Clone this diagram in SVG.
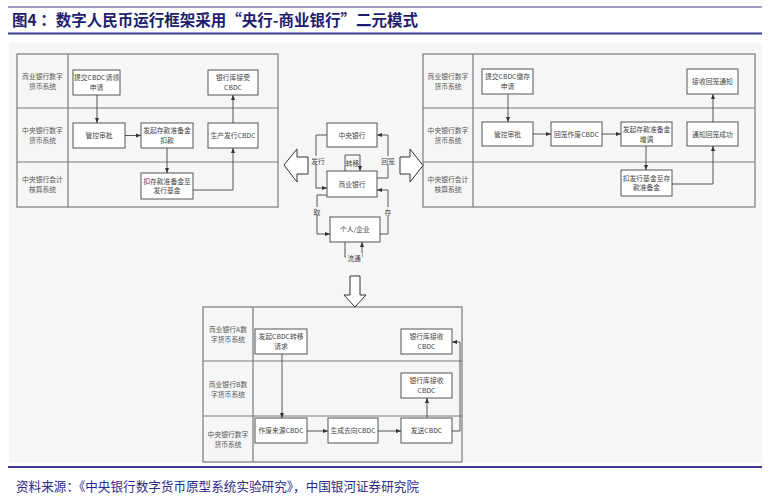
<svg xmlns="http://www.w3.org/2000/svg" width="770" height="500" viewBox="0 0 770 500">
<defs>
<style>
.bg{fill:#f6f6f6}
.rule{stroke:#3d3b8e;fill:none}
.panel{fill:#f6f6f6;stroke:#7a7a7a;stroke-width:1.2}
.div{stroke:#7a7a7a;stroke-width:1.2;fill:none}
.box{fill:#ffffff;stroke:#555;stroke-width:1}
.t{font-family:"Noto Sans CJK SC","Noto Sans",sans-serif;font-size:6.8px;fill:#444;text-anchor:middle}
.lab{font-family:"Noto Sans CJK SC","Noto Sans",sans-serif;font-size:6.8px;fill:#555;text-anchor:middle}
.c{stroke:#444;stroke-width:0.9;fill:none;marker-end:url(#ah)}
.big{fill:#ffffff;stroke:#333;stroke-width:1}
.lbg{fill:#f6f6f6}
.title{font-family:"Noto Sans CJK SC",sans-serif;font-size:15.5px;font-weight:bold;fill:#1f1d6e}
.src{font-family:"Noto Sans CJK SC",sans-serif;font-size:12.6px;fill:#2d2b85}
</style>
<marker id="ah" viewBox="0 0 10 10" refX="10" refY="5" markerWidth="5" markerHeight="5" orient="auto" markerUnits="userSpaceOnUse">
<path d="M0,1 L10,5 L0,9 Z" fill="#333"/>
</marker>
</defs>

<rect class="bg" x="9" y="43" width="753" height="420"/>
<line class="rule" x1="8" y1="7" x2="762" y2="7" stroke-width="1.2"/>
<line class="rule" x1="8" y1="33.5" x2="762" y2="33.5" stroke-width="2"/>
<line class="rule" x1="8" y1="467" x2="762" y2="467" stroke-width="2"/>
<text class="title" x="12" y="26">图4 ：数字人民币运行框架采用“央行-商业银行”二元模式</text>
<text class="src" x="16" y="491">资料来源：《中央银行数字货币原型系统实验研究》，中国银河证券研究院</text>

<!-- Left panel: issuance -->
<g id="panel-left">
<rect class="panel" x="17" y="54" width="261" height="153"/>
<path class="div" d="M17,108H278M17,162H278M68,54V207"/>
<text class="lab" x="42.5" y="79"><tspan x="42.5">商业银行数字</tspan><tspan x="42.5" dy="10">货币系统</tspan></text>
<text class="lab" x="42.5" y="133"><tspan x="42.5">中央银行数字</tspan><tspan x="42.5" dy="10">货币系统</tspan></text>
<text class="lab" x="42.5" y="182"><tspan x="42.5">中央银行会计</tspan><tspan x="42.5" dy="10">核算系统</tspan></text>
</g>
<g id="L1"><rect class="box" x="73" y="70" width="47" height="25"/><text class="t" x="96.5" y="80"><tspan x="96.5">提交CBDC请领</tspan><tspan x="96.5" dy="9.5">申请</tspan></text></g>
<g id="L2"><rect class="box" x="208" y="70" width="50" height="25"/><text class="t" x="233" y="80"><tspan x="233">银行库接受</tspan><tspan x="233" dy="9.5">CBDC</tspan></text></g>
<g id="L3"><rect class="box" x="73" y="123" width="52" height="25"/><text class="t" x="99" y="138">管控审批</text></g>
<g id="L4"><rect class="box" x="141" y="123" width="52" height="25"/><text class="t" x="167" y="133"><tspan x="167">发起存款准备金</tspan><tspan x="167" dy="9.5">扣款</tspan></text></g>
<g id="L5"><rect class="box" x="208" y="123" width="50" height="25"/><text class="t" x="233" y="138">生产发行CBDC</text></g>
<g id="L6"><rect class="box" x="141" y="173" width="52" height="26"/><text class="t" x="167" y="183.5"><tspan x="167">扣存款准备金至</tspan><tspan x="167" dy="9.5">发行基金</tspan></text></g>

<!-- Right panel: withdrawal -->
<g id="panel-right">
<rect class="panel" x="423" y="54" width="332" height="153"/>
<path class="div" d="M423,108H755M423,162H755M473,54V207"/>
<text class="lab" x="448" y="79"><tspan x="448">商业银行数字</tspan><tspan x="448" dy="10">货币系统</tspan></text>
<text class="lab" x="448" y="133"><tspan x="448">中央银行数字</tspan><tspan x="448" dy="10">货币系统</tspan></text>
<text class="lab" x="448" y="182"><tspan x="448">中央银行会计</tspan><tspan x="448" dy="10">核算系统</tspan></text>
</g>
<g id="R1"><rect class="box" x="482" y="69" width="51" height="25"/><text class="t" x="507.5" y="79"><tspan x="507.5">提交CBDC缴存</tspan><tspan x="507.5" dy="9.5">申请</tspan></text></g>
<g id="R2"><rect class="box" x="687" y="69" width="51" height="25"/><text class="t" x="712.5" y="84">接收回笼通知</text></g>
<g id="R3"><rect class="box" x="482" y="122" width="51" height="24"/><text class="t" x="507.5" y="136.5">管控审批</text></g>
<g id="R4"><rect class="box" x="551" y="122" width="51" height="24"/><text class="t" x="576.5" y="136.5">回笼作废CBDC</text></g>
<g id="R5"><rect class="box" x="621" y="122" width="51" height="24"/><text class="t" x="646.5" y="132"><tspan x="646.5">发起存款准备金</tspan><tspan x="646.5" dy="9.5">增调</tspan></text></g>
<g id="R6"><rect class="box" x="687" y="122" width="51" height="24"/><text class="t" x="712.5" y="136.5">通知回笼成功</text></g>
<g id="R7"><rect class="box" x="621" y="170" width="51" height="26"/><text class="t" x="646.5" y="180.5"><tspan x="646.5">扣发行基金至存</tspan><tspan x="646.5" dy="9.5">款准备金</tspan></text></g>

<!-- Bottom panel: transfer -->
<g id="panel-bottom">
<rect class="panel" x="203" y="307" width="259" height="155"/>
<path class="div" d="M203,361H462M203,416H462M253,307V462"/>
<text class="lab" x="228" y="332"><tspan x="228">商业银行A数</tspan><tspan x="228" dy="10">字货币系统</tspan></text>
<text class="lab" x="228" y="386.5"><tspan x="228">商业银行B数</tspan><tspan x="228" dy="10">字货币系统</tspan></text>
<text class="lab" x="228" y="437"><tspan x="228">中央银行数字</tspan><tspan x="228" dy="10">货币系统</tspan></text>
</g>
<g id="B1"><rect class="box" x="255" y="329" width="52" height="25"/><text class="t" x="281" y="339"><tspan x="281">发起CBDC转移</tspan><tspan x="281" dy="9.5">请求</tspan></text></g>
<g id="B2"><rect class="box" x="401" y="329" width="51" height="25"/><text class="t" x="426.5" y="339"><tspan x="426.5">银行库接收</tspan><tspan x="426.5" dy="9.5">CBDC</tspan></text></g>
<g id="B3"><rect class="box" x="401" y="373" width="51" height="25"/><text class="t" x="426.5" y="383"><tspan x="426.5">银行库接收</tspan><tspan x="426.5" dy="9.5">CBDC</tspan></text></g>
<g id="B4"><rect class="box" x="255" y="418" width="52" height="25"/><text class="t" x="281" y="433">作废来源CBDC</text></g>
<g id="B5"><rect class="box" x="328" y="418" width="50" height="25"/><text class="t" x="353" y="433">生成去向CBDC</text></g>
<g id="B6"><rect class="box" x="401" y="418" width="51" height="25"/><text class="t" x="426.5" y="433">发送CBDC</text></g>

<!-- Centre cluster -->
<g id="C1"><rect class="box" x="327" y="123" width="50" height="24"/><text class="t" x="352" y="137.5">中央银行</text></g>
<g id="C2"><rect class="box" x="327" y="171" width="50" height="26"/><text class="t" x="352" y="186.5">商业银行</text></g>
<g id="C3"><rect class="box" x="330" y="217" width="50" height="25"/><text class="t" x="355" y="232">个人/企业</text></g>

<!-- Big arrows -->
<g id="big-arrows">
<polygon class="big" points="284,165 297,149 297,157 308,157 308,174 297,174 297,182"/>
<polygon class="big" points="400,157 410,157 410,149 423,165.5 410,182 410,174 400,174"/>
<polygon class="big" points="350,276 360,276 360,295 366,295 355,307 344,295 350,295"/>
</g>

<g id="connectors">
<path class="c" d="M97,95V123"/>
<path class="c" d="M125,135.5H141"/>
<path class="c" d="M167,148V173"/>
<path class="c" d="M193,190H233V148"/>
<path class="c" d="M233,123V95"/>

<path class="c" d="M508,94V122"/>
<path class="c" d="M533,134H551"/>
<path class="c" d="M602,134H621"/>
<path class="c" d="M646,146V170"/>
<path class="c" d="M672,184H713V146"/>
<path class="c" d="M713,122V94"/>

<path class="c" d="M282,354V418"/>
<path class="c" d="M307,431H328"/>
<path class="c" d="M378,431H401"/>
<path class="c" d="M427,418V398"/>
<path class="c" d="M452,431H460V342H452"/>

<path class="c" d="M327,135H316V188H327"/>
<path class="c" d="M377,178H388V135H377"/>
<path class="c" d="M345,171V155H360V171"/>
<path class="c" d="M327,195H317V234H330"/>
<path class="c" d="M380,234H388V190H377"/>
<path class="c" d="M345,242V257H362V242"/>
<rect class="lbg" x="310" y="156" width="16" height="9"/>
<text class="t" x="318" y="163.5">发行</text>
<rect class="lbg" x="380" y="156" width="16" height="9"/>
<text class="t" x="388" y="163.5">回笼</text>
<text class="t" x="352.5" y="166">转移</text>
<rect class="lbg" x="312" y="207" width="10" height="9"/>
<text class="t" x="317" y="214.5">取</text>
<rect class="lbg" x="383" y="207" width="10" height="9"/>
<text class="t" x="388" y="214.5">存</text>
<rect class="lbg" x="346" y="253" width="16" height="9"/>
<text class="t" x="354" y="260.5">流通</text>
</g>
</svg>
